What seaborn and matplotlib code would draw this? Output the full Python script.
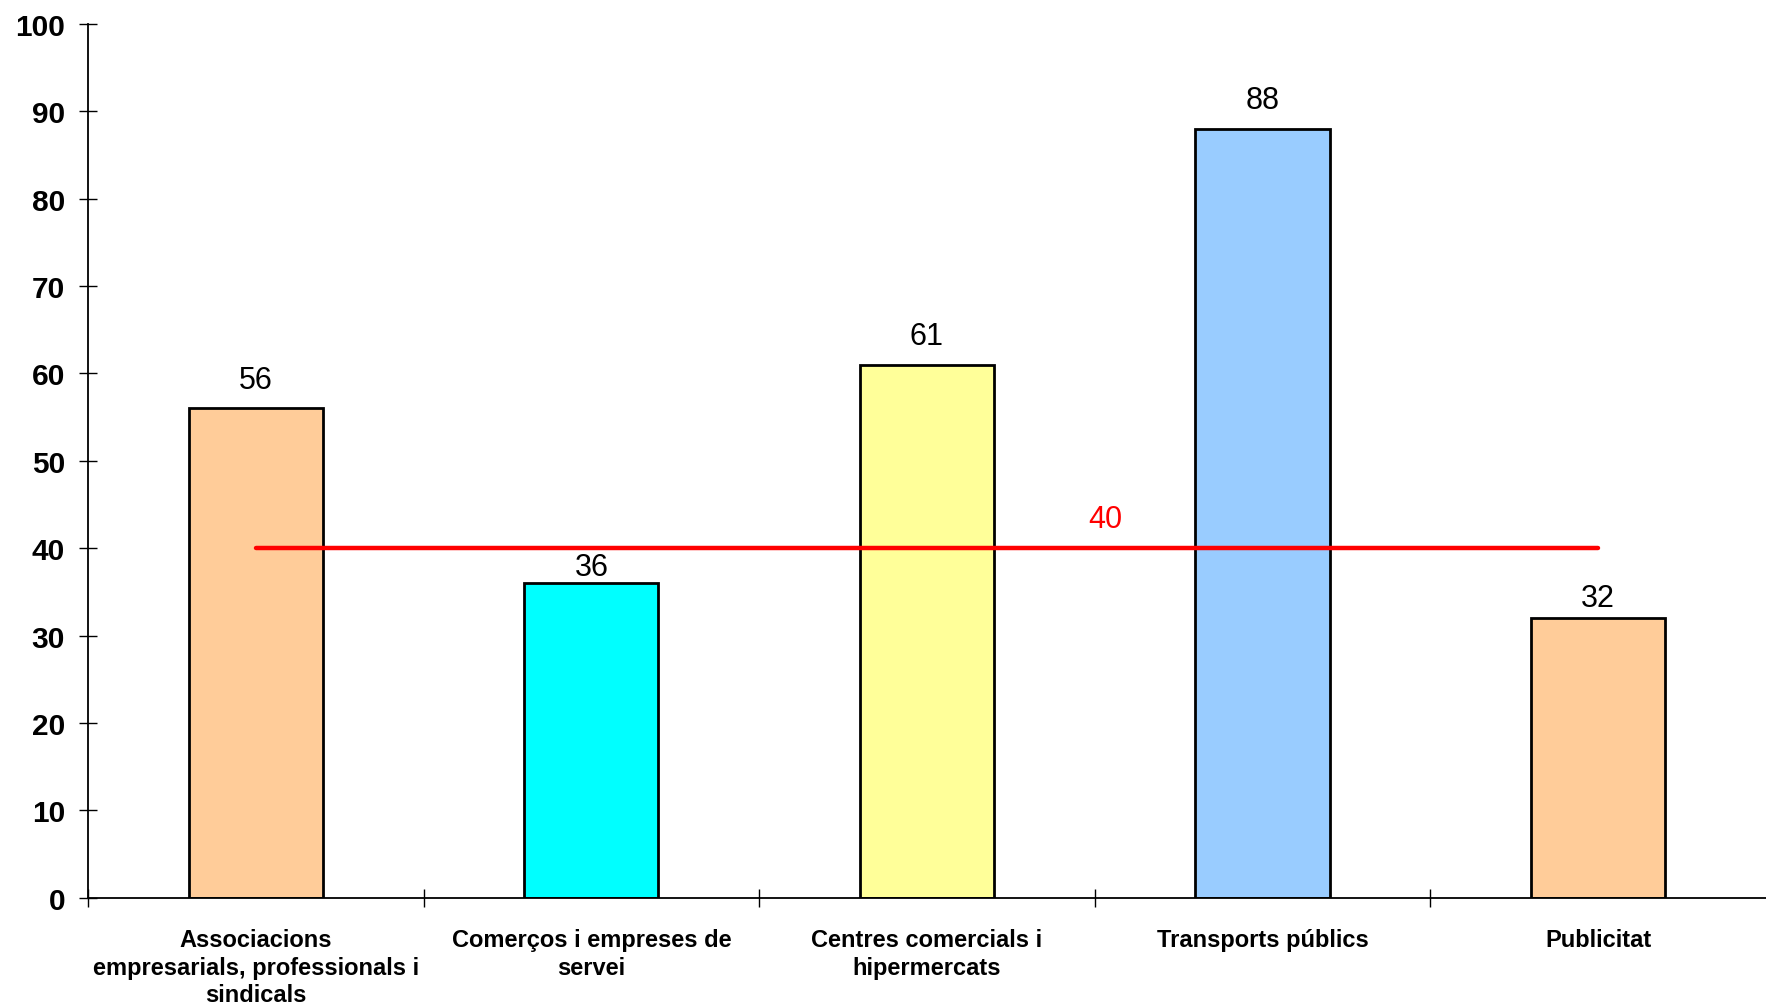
import matplotlib
matplotlib.use("Agg")
import matplotlib.pyplot as plt
import seaborn as sns
import pandas as pd
from matplotlib.ticker import FixedLocator

categories = [
    "Associacions\nempresarials, professionals i\nsindicals",
    "Comerços i empreses de\nservei",
    "Centres comercials i\nhipermercats",
    "Transports públics",
    "Publicitat",
]
values = [56, 36, 61, 88, 32]
bar_colors = ["#FFCC99", "#00FFFF", "#FFFF99", "#99CCFF", "#FFCC99"]
average = 40
y_ticks = [0, 10, 20, 30, 40, 50, 60, 70, 80, 90, 100]

# label offsets (points) above each bar
label_offsets = [10, 1, 10, 10, 4]

sns.set_theme(style="white")
plt.rcParams["font.family"] = ["Liberation Sans", "DejaVu Sans"]

df = pd.DataFrame({"cat": categories, "val": values})

fig = plt.figure(figsize=(17.66, 10.04), dpi=100)
ax = fig.add_axes([0.0498, 0.105, 0.9502, 0.870])

sns.barplot(data=df, x="cat", y="val", hue="cat", palette=bar_colors,
            legend=False, width=0.4, edgecolor="black", linewidth=2,
            saturation=1, ax=ax)

ax.set_xlim(-0.5, len(categories) - 0.5)
ax.set_ylim(0, 100)
ax.set_yticks(y_ticks)
ax.set_xlabel("")
ax.set_ylabel("")

for s in ["top", "right"]:
    ax.spines[s].set_visible(False)
for s in ["left", "bottom"]:
    ax.spines[s].set_color("black")
    ax.spines[s].set_linewidth(1.3)

ax.tick_params(axis="x", which="major", bottom=True, length=0, pad=22, labelcolor="black")
ax.xaxis.set_minor_locator(FixedLocator([i - 0.5 for i in range(len(categories))]))
ax.tick_params(axis="x", which="minor", bottom=True, direction="inout", length=13, width=1, color="black")
ax.tick_params(axis="y", which="major", left=True, direction="inout", length=13, width=1,
               color="black", pad=10, labelcolor="black")

for lab in ax.get_xticklabels():
    lab.set_fontsize(17)
    lab.set_fontweight("bold")
    lab.set_linespacing(1.25)
    lab.set_verticalalignment("top")
for lab in ax.get_yticklabels():
    lab.set_fontsize(21.5)
    lab.set_fontweight("bold")

for i, v in enumerate(values):
    ax.annotate(str(v), (i, v), xytext=(0, label_offsets[i]), textcoords="offset points",
                ha="center", va="bottom", fontsize=22, color="black")

ax.plot([0, len(categories) - 1], [average, average], color="#FF0000", linewidth=3.2,
        solid_capstyle="round", zorder=5)
ax.annotate(str(average), (2.53, average), xytext=(0, 10), textcoords="offset points",
            ha="center", va="bottom", fontsize=22, color="#FF0000")

fig.savefig("out.png", dpi=100, facecolor="white")
